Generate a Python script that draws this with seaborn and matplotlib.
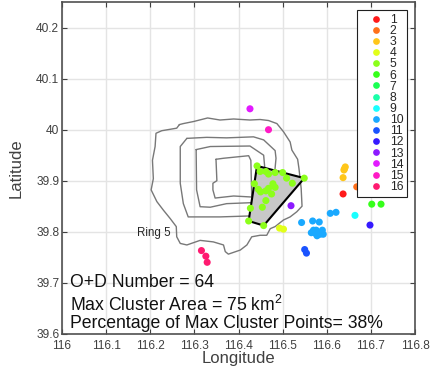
import matplotlib
matplotlib.use("Agg")
import matplotlib.pyplot as plt
import pandas as pd
import seaborn as sns

# O+D points per cluster id
lon_1 = [116.637]
lat_1 = [39.874]
lon_2 = [116.668]
lat_2 = [39.888]
lon_3 = [116.642, 116.640, 116.639, 116.637]
lat_3 = [39.927, 39.923, 39.921, 39.906]
lon_4 = [116.493, 116.502]
lat_4 = [39.807, 39.805]
lon_5 = [116.442, 116.449, 116.462, 116.468, 116.483, 116.500, 116.509, 116.522,
         116.436, 116.445, 116.450, 116.462, 116.468, 116.478, 116.483, 116.475,
         116.462, 116.454, 116.427, 116.423, 116.457, 116.549]
lat_5 = [39.929, 39.918, 39.918, 39.913, 39.916, 39.916, 39.905, 39.895,
         39.894, 39.883, 39.878, 39.880, 39.885, 39.894, 39.887, 39.874,
         39.861, 39.848, 39.846, 39.821, 39.812, 39.905]
lon_6 = [116.702, 116.723]
lat_6 = [39.854, 39.854]
lon_9 = [116.664]
lat_9 = [39.832]
lon_10 = [116.543, 116.568, 116.583, 116.608, 116.621, 116.565, 116.570, 116.576,
          116.574, 116.578, 116.585, 116.590, 116.592]
lat_10 = [39.818, 39.821, 39.819, 39.836, 39.838, 39.798, 39.803, 39.803,
          39.797, 39.792, 39.795, 39.803, 39.795]
lon_11 = [116.550, 116.554]
lat_11 = [39.765, 39.758]
lon_12 = [116.698]
lat_12 = [39.813]
lon_13 = [116.519]
lat_13 = [39.851]
lon_14 = [116.426]
lat_14 = [40.041]
lon_15 = [116.468]
lat_15 = [40.000]
lon_16 = [116.316, 116.326, 116.329]
lat_16 = [39.763, 39.752, 39.740]

# clusters 7 and 8 only show up in the legend
cluster_ids = [str(i) for i in range(1, 17)]

# largest cluster outline
hull_lon = [116.442, 116.549, 116.457, 116.423]
hull_lat = [39.929, 39.905, 39.812, 39.821]

# ring roads
ring_outer_lon = [116.266, 116.275, 116.298, 116.330, 116.358, 116.389, 116.426, 116.449,
                  116.468, 116.487, 116.502, 116.517, 116.521, 116.534, 116.537, 116.542,
                  116.544, 116.532, 116.517, 116.502, 116.483, 116.472, 116.464, 116.449,
                  116.430, 116.419, 116.404, 116.377, 116.370, 116.366, 116.343, 116.313,
                  116.283, 116.268, 116.260, 116.259, 116.245, 116.230, 116.215, 116.202,
                  116.207, 116.205, 116.211, 116.213, 116.226, 116.260, 116.266]
ring_outer_lat = [40.010, 40.012, 40.016, 40.023, 40.019, 40.021, 40.019, 40.020,
                  40.018, 40.012, 39.996, 39.976, 39.960, 39.942, 39.924, 39.885,
                  39.850, 39.839, 39.829, 39.823, 39.810, 39.806, 39.793, 39.793,
                  39.790, 39.774, 39.764, 39.756, 39.761, 39.774, 39.780, 39.783,
                  39.774, 39.777, 39.790, 39.810, 39.826, 39.842, 39.859, 39.882,
                  39.904, 39.940, 39.967, 39.993, 39.998, 40.003, 40.010]
ring_b_lon = [116.283, 116.328, 116.373, 116.434, 116.457, 116.483, 116.485, 116.479,
              116.457, 116.430, 116.358, 116.286, 116.275, 116.268, 116.268, 116.283]
ring_b_lat = [39.983, 39.985, 39.984, 39.986, 39.980, 39.959, 39.944, 39.888,
              39.836, 39.831, 39.829, 39.829, 39.855, 39.895, 39.967, 39.983]
ring_c_lon = [116.304, 116.336, 116.426, 116.457, 116.464, 116.432, 116.373, 116.336,
              116.313, 116.305, 116.304]
ring_c_lat = [39.961, 39.967, 39.968, 39.950, 39.882, 39.857, 39.855, 39.848,
              39.849, 39.882, 39.961]
ring_d_lon = [116.349, 116.366, 116.423, 116.428, 116.430, 116.389, 116.347, 116.342,
              116.342, 116.351, 116.349]
ring_d_lat = [39.942, 39.944, 39.949, 39.940, 39.868, 39.870, 39.866, 39.882,
              39.895, 39.900, 39.942]

x_ticks = [116, 116.1, 116.2, 116.3, 116.4, 116.5, 116.6, 116.7, 116.8]
x_tick_labels = ["116", "116.1", "116.2", "116.3", "116.4", "116.5", "116.6", "116.7", "116.8"]
y_ticks = [39.6, 39.7, 39.8, 39.9, 40, 40.1, 40.2]
y_tick_labels = ["39.6", "39.7", "39.8", "39.9", "40", "40.1", "40.2"]

sns.set_style("white")
plt.rcParams["font.family"] = ["Liberation Sans", "DejaVu Sans"]
plt.rcParams["mathtext.fontset"] = "custom"
plt.rcParams["mathtext.rm"] = "Liberation Sans"

clusters = {
    "1": (lon_1, lat_1), "2": (lon_2, lat_2), "3": (lon_3, lat_3), "4": (lon_4, lat_4),
    "5": (lon_5, lat_5), "6": (lon_6, lat_6), "9": (lon_9, lat_9), "10": (lon_10, lat_10),
    "11": (lon_11, lat_11), "12": (lon_12, lat_12), "13": (lon_13, lat_13),
    "14": (lon_14, lat_14), "15": (lon_15, lat_15), "16": (lon_16, lat_16),
}
points = pd.concat(
    [pd.DataFrame({"lon": xs, "lat": ys, "cluster": cid}) for cid, (xs, ys) in clusters.items()],
    ignore_index=True,
)

fig = plt.figure(figsize=(4.48, 3.73), dpi=100)
ax = fig.add_axes([62 / 448, 39.3 / 373, 353 / 448, 331.5 / 373])

for ring_lon, ring_lat in [(ring_outer_lon, ring_outer_lat), (ring_b_lon, ring_b_lat),
                           (ring_c_lon, ring_c_lat), (ring_d_lon, ring_d_lat)]:
    sns.lineplot(x=ring_lon, y=ring_lat, sort=False, estimator=None, color="#787878",
                 lw=1.0, ax=ax, zorder=2)

ax.fill(hull_lon, hull_lat, facecolor="#c8c8c8", edgecolor="black", lw=1.5, zorder=3)

palette = dict(zip(cluster_ids, sns.hls_palette(16, h=0, l=0.55, s=1)))
sns.scatterplot(data=points, x="lon", y="lat", hue="cluster", hue_order=cluster_ids,
                palette=palette, s=26, linewidth=0, ax=ax, zorder=4, legend="full")

ax.set_xlim(116, 116.8)
ax.set_ylim(39.6, 40.25)
ax.set_xticks(x_ticks, x_tick_labels)
ax.set_yticks(y_ticks, y_tick_labels)
ax.grid(True, color="#e4e4e4", lw=1.0)
ax.set_axisbelow(True)
ax.tick_params(direction="in", length=3.5, width=0.8, color="#404040", labelcolor="#404040",
               labelsize=8.6, top=True, right=True, bottom=True, left=True)
ax.tick_params(axis="x", pad=4.5)
ax.tick_params(axis="y", pad=2)
for spine in ax.spines.values():
    spine.set_color("#505050")
    spine.set_linewidth(1.2)

ax.set_xlabel("Longitude", fontsize=12, color="#404040", labelpad=-1)
ax.set_ylabel("Latitude", fontsize=12, color="#404040", labelpad=3)
ax.yaxis.set_label_coords(-38 / 353, 0.5)

handles, labels = ax.get_legend_handles_labels()
ax.legend(handles, labels, loc="upper left", bbox_to_anchor=(295.3 / 353, 1 - 8 / 331.5),
          borderaxespad=0, fontsize=8.8, frameon=True, fancybox=False, framealpha=1,
          edgecolor="#202020", labelspacing=-0.07, borderpad=0.3, handletextpad=-0.15,
          handlelength=2.5, markerscale=0.95)
ax.get_legend().get_frame().set_linewidth(0.8)

ax.text(116.17, 39.792, "Ring 5", fontsize=8.3, color="#262626", ha="left", va="baseline", zorder=5)
ax.text(116.017, 39.692, "O+D Number = 64", fontsize=12.7, color="#111111", zorder=5)
ax.text(116.017, 39.644, "Max Cluster Area = 75 km$^{2}$", fontsize=12.7, color="#111111", zorder=5)
ax.text(116.017, 39.612, "Percentage of Max Cluster Points= 38%", fontsize=12.7, color="#111111", zorder=5)

fig.savefig("out.png", dpi=100)
